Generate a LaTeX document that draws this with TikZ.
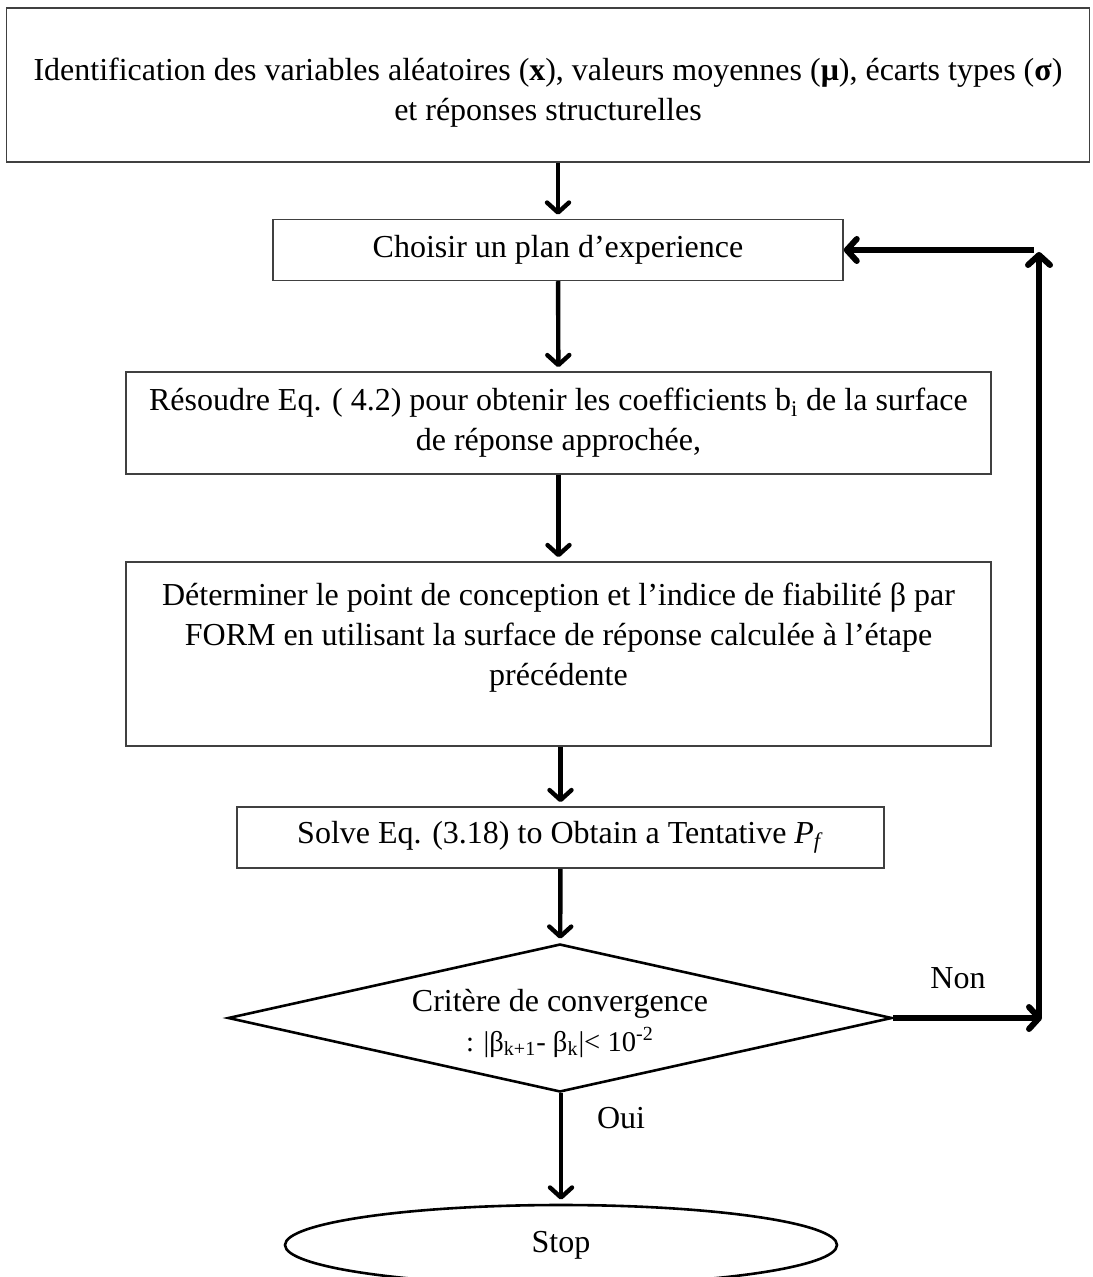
\documentclass[tikz,border=0pt]{standalone}
\usepackage{fontspec}
\setmainfont{Liberation Serif}
\usetikzlibrary{arrows.meta,shapes.geometric,positioning}

\begin{document}
\begin{tikzpicture}[x=0.5pt,y=-0.5pt,
    every node/.style={font=\fontsize{16}{20}\selectfont},
    box/.style={draw=black!75,line width=0.75pt,rectangle,align=center,inner sep=0pt},
    decision/.style={draw=black,line width=1.3pt,diamond,inner sep=0pt,minimum width=332pt,minimum height=74pt},
    terminal/.style={draw=black,line width=1.3pt,ellipse,inner sep=0pt,minimum width=276pt,minimum height=40pt},
    flow/.style={line width=2.2pt,shorten >=2pt,-{Straight Barb[length=5pt,width=11pt,line cap=round,line join=round]}},
    loop/.style={flow,line width=3pt,shorten >=0pt}]
\useasboundingbox (0,0) rectangle (1092,1277);

\node[box,minimum width=541.5pt,minimum height=77pt,
  label={[align=center,yshift=-4pt]center:{Identification des variables aléatoires (\textbf{x}), valeurs moyennes (\textbf{μ}), écarts types (\textbf{σ})\\ et réponses structurelles}}] (ident) at (548,85) {};
\node[box,minimum width=285pt,minimum height=30.5pt] (plan) at (558,250) {Choisir un plan d’experience};
\node[box,minimum width=432.5pt,minimum height=51pt] (resoudre) at (558.5,423) {Résoudre Eq. ( 4.2) pour obtenir les coefficients b\textsubscript{i} de la surface\\ de réponse approchée,};
\node[box,minimum width=432.5pt,minimum height=92pt] (determiner) at (558.5,654) {Déterminer le point de conception et l'indice de fiabilité β par\\ FORM en utilisant la surface de réponse calculée à l'étape\\ précédente\\ \mbox{}};
\node[box,minimum width=323.5pt,minimum height=30.5pt] (solve) at (560.5,837.5) {Solve Eq. (3.18) to Obtain a Tentative \textit{P}\textsubscript{\textit{f}}};
\node[decision,label={[align=center,yshift=-2.5pt]center:{Critère de convergence\\ {\fontsize{14.3}{20}\selectfont : |β\textsubscript{k+1}- β\textsubscript{k}|< 10\textsuperscript{-2}}}}] (critere) at (560,1018) {};
\node[terminal] (stop) at (561,1245) {Stop};
\node (non) at (958,978) {Non};
\node (oui) at (621,1118) {Oui};

\coordinate (nonend) at (1042,1018);
\coordinate (loopbot) at (1039,1018);
\coordinate (looptop) at (1039,252);
\coordinate (loopturn) at (1034,250);

\draw[flow] (ident.south -| plan.north) -- (plan.north);
\draw[flow] (plan) -- (resoudre);
\draw[flow] (resoudre) -- (determiner);
\draw[flow] (determiner.south -| solve.north) -- (solve.north);
\draw[flow] (solve) -- (critere);
\draw[flow] (critere.south -| stop.north) -- (stop.north);
\draw[loop] (critere.east) -- (nonend);
\draw[loop] (loopbot) -- (looptop);
\draw[loop] (loopturn) -- (plan.east);
\end{tikzpicture}
\end{document}
